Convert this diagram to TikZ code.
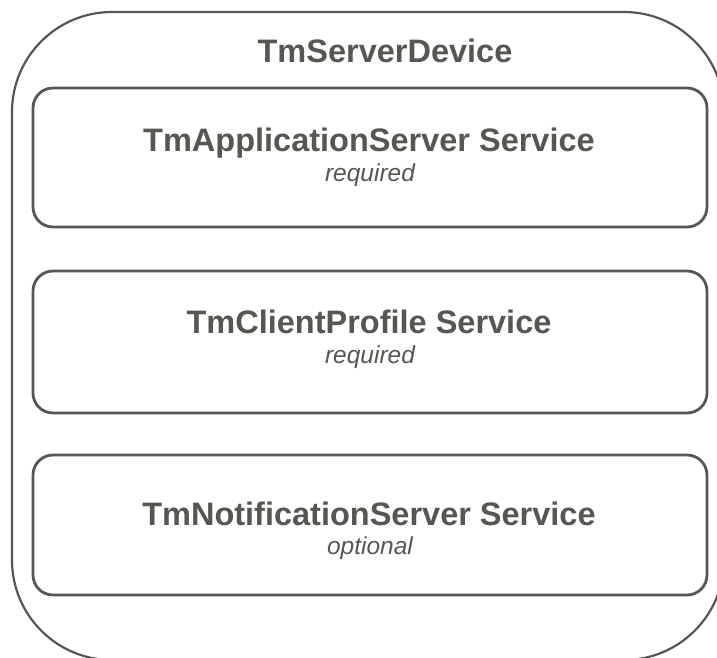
\documentclass[tikz,border=0pt]{standalone}
\usepackage{fontspec}
\setmainfont{Liberation Sans}
\definecolor{ink}{RGB}{86,87,81}
\begin{document}
\begin{tikzpicture}[x=1pt,y=-1pt,
  outerbox/.style={draw=ink,line width=2.2pt,rounded corners=100pt},
  svcbox/.style={draw=ink,line width=2.8pt,rounded corners=20pt,minimum width=674pt,minimum height=139pt,inner sep=0pt},
  title/.style={text=ink,font=\bfseries\fontsize{32.5}{36}\selectfont,anchor=base,inner sep=0pt},
  sub/.style={text=ink,font=\itshape\fontsize{24.5}{28}\selectfont,anchor=base,inner sep=0pt}]
\useasboundingbox (0,0) rectangle (717,657);
\clip (0,0) rectangle (717,657);
\draw[outerbox] (12,12) rectangle (724,660);
\node[title] (dev) at (385,62) {TmServerDevice};
\node[svcbox] (app) at (370,157.5) {};
\node[title] (appt) at (369,151) {TmApplicationServer Service};
\node[sub] (apps) at (370,181) {required};
\node[svcbox,minimum height=142pt] (cli) at (370,342) {};
\node[title] (clit) at (369,333) {TmClientProfile Service};
\node[sub] (clis) at (370,363) {required};
\node[svcbox,minimum height=140pt] (not) at (370,525) {};
\node[title] (nott) at (369,525) {TmNotificationServer Service};
\node[sub] (nots) at (370,554) {optional};
\end{tikzpicture}
\end{document}
